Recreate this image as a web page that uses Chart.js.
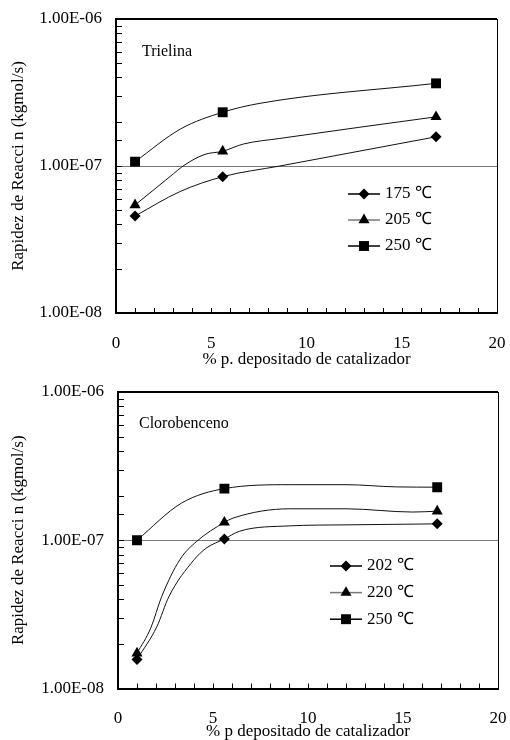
<!DOCTYPE html>
<html>
<head>
<meta charset="utf-8">
<script src="https://cdn.jsdelivr.net/npm/chart.js@4.4.1/dist/chart.umd.min.js"></script>
<style>
  html, body { margin: 0; padding: 0; background: #fff; }
  #wrap { position: relative; width: 510px; height: 740px; }
  canvas { position: absolute; left: 0; }
  #chartTop { top: 0; }
  #chartBottom { top: 370px; }
</style>
</head>
<body>
<div id="wrap">
  <canvas id="chartTop" width="510" height="370"></canvas>
  <canvas id="chartBottom" width="510" height="370"></canvas>
</div>
<script>
const SERIF = "'Liberation Serif', 'Times New Roman', serif";

// x positions of the measured points (% p. catalyst)
const catalystPct = [1, 5.6, 16.8];

// Trielina - measured rates (kgmol/s)
const trielinaLabels = ['175 \u2103', '205 \u2103', '250 \u2103'];
const trielina175 = [4.57e-8, 8.46e-8, 1.58e-7];
const trielina205 = [5.43e-8, 1.26e-7, 2.16e-7];
const trielina250 = [1.07e-7, 2.32e-7, 3.65e-7];

// Trielina - trend lines
const trielina175LineX = [1, 3.35, 5.6, 8.6, 16.8];
const trielina175LineY = [4.57e-8, 6.69e-8, 8.46e-8, 1.0e-7, 1.58e-7];
const trielina205LineX = [1, 2.83, 3.62, 4.67, 5.6, 6.68, 8.6, 16.8];
const trielina205LineY = [5.43e-8, 8.46e-8, 1.02e-7, 1.2e-7, 1.26e-7, 1.41e-7, 1.54e-7, 2.16e-7];
const trielina250LineX = [1, 3.4, 5.6, 7.56, 16.8];
const trielina250LineY = [1.07e-7, 1.79e-7, 2.32e-7, 2.67e-7, 3.65e-7];

// Clorobenceno - measured rates (kgmol/s)
const cloroLabels = ['202 \u2103', '220 \u2103', '250 \u2103'];
const cloro202 = [1.57e-8, 1.02e-7, 1.29e-7];
const cloro220 = [1.73e-8, 1.32e-7, 1.57e-7];
const cloro250 = [1.0e-7, 2.23e-7, 2.28e-7];

// Clorobenceno - trend lines
const cloro202LineX = [1, 2.05, 2.68, 4.0, 4.65, 5.6, 6.39, 9.04, 12, 16.8];
const cloro202LineY = [1.57e-8, 2.62e-8, 4.17e-8, 7.38e-8, 8.86e-8, 1.02e-7, 1.15e-7, 1.25e-7, 1.27e-7, 1.29e-7];
const cloro220LineX = [1, 1.72, 2.3, 3.25, 4.13, 5.6, 6.05, 9.04, 12, 15.5, 16.8];
const cloro220LineY = [1.73e-8, 2.55e-8, 4.17e-8, 7.38e-8, 9.8e-8, 1.32e-7, 1.41e-7, 1.63e-7, 1.63e-7, 1.55e-7, 1.57e-7];
const cloro250LineX = [1, 3.34, 5.6, 9.04, 12, 14.65, 16.8];
const cloro250LineY = [1.0e-7, 1.78e-7, 2.23e-7, 2.37e-7, 2.37e-7, 2.29e-7, 2.28e-7];

// axis ticks
const xTickLabels = [0, 5, 10, 15, 20];
const yMin = 1e-8;
const yMax = 1e-6;

const markerStyles = ['rectRot', 'triangle', 'rect'];
const markerRadius = [5.5, 6.4, 7];
const legendLineColors = ['#000', '#777', '#000'];

function pairs(xs, ys) {
  return xs.map((x, i) => ({ x: x, y: ys[i] }));
}

function sciLabel(v) {
  const e = Math.log10(v);
  if (Math.abs(e - Math.round(e)) > 1e-6) return '';
  const n = Math.round(e);
  return '1.00E' + (n < 0 ? '-' : '+') + String(Math.abs(n)).padStart(2, '0');
}

// Short tick marks pointing into the plot, like the original
const innerTicks = {
  id: 'innerTicks',
  afterDraw(chart) {
    const ctx = chart.ctx;
    const area = chart.chartArea;
    const xs = chart.scales.x;
    const ys = chart.scales.y;
    ctx.save();
    ctx.strokeStyle = '#000';
    ctx.lineWidth = 1;
    ctx.beginPath();
    ys.ticks.forEach(t => {
      const py = Math.round(ys.getPixelForValue(t.value)) + 0.5;
      ctx.moveTo(area.left, py);
      ctx.lineTo(area.left + 6, py);
    });
    xs.ticks.forEach(t => {
      const px = Math.round(xs.getPixelForValue(t.value)) + 0.5;
      ctx.moveTo(px, area.bottom);
      ctx.lineTo(px, area.bottom - 5);
    });
    ctx.stroke();
    ctx.restore();
  }
};

// Legend and panel caption drawn inside the plot area
const insetLegend = {
  id: 'insetLegend',
  afterDatasetsDraw(chart, args, opts) {
    const ctx = chart.ctx;
    ctx.save();
    ctx.fillStyle = '#000';
    ctx.textBaseline = 'middle';
    ctx.textAlign = 'left';
    ctx.font = '16px ' + SERIF;
    ctx.fillText(opts.caption, opts.captionX, opts.captionY);

    ctx.font = '17px ' + SERIF;
    opts.labels.forEach((label, i) => {
      const y = opts.y + i * opts.rowGap;
      ctx.strokeStyle = legendLineColors[i];
      ctx.lineWidth = 1.5;
      ctx.beginPath();
      ctx.moveTo(opts.x, y);
      ctx.lineTo(opts.x + opts.lineLen, y);
      ctx.stroke();
      ctx.fillStyle = '#000';
      Chart.helpers.drawPoint(ctx, {
        pointStyle: markerStyles[i],
        radius: markerRadius[i],
        rotation: 0,
        borderWidth: 0
      }, opts.x + opts.lineLen / 2, y);
      ctx.fillText(label, opts.x + opts.lineLen + 5, y);
    });
    ctx.restore();
  }
};

function makeChart(canvasId, cfg) {
  const datasets = [];
  cfg.lines.forEach(l => {
    datasets.push({
      data: pairs(l[0], l[1]),
      borderColor: '#111',
      borderWidth: 1,
      pointRadius: 0,
      cubicInterpolationMode: 'monotone',
      fill: false,
      order: 2
    });
  });
  cfg.series.forEach((s, i) => {
    datasets.push({
      label: cfg.labels[i],
      data: pairs(catalystPct, s),
      showLine: false,
      pointStyle: markerStyles[i],
      pointRadius: markerRadius[i],
      pointBackgroundColor: '#000',
      pointBorderWidth: 0,
      order: 1
    });
  });

  return new Chart(document.getElementById(canvasId), {
    type: 'line',
    data: { datasets: datasets },
    plugins: [innerTicks, insetLegend],
    options: {
      responsive: false,
      animation: false,
      devicePixelRatio: 1,
      layout: { padding: { top: cfg.top, right: cfg.right, left: 0, bottom: 0 } },
      plugins: {
        legend: { display: false },
        tooltip: { enabled: false },
        insetLegend: cfg.legend
      },
      scales: {
        x: {
          type: 'linear',
          min: 0,
          max: 20,
          afterFit: s => {
            s.height = cfg.xHeight;
            s.paddingLeft = 0;
            s.paddingRight = 0;
          },
          ticks: {
            stepSize: 1,
            autoSkip: false,
            maxRotation: 0,
            padding: 20,
            color: '#000',
            font: { family: SERIF, size: 17 },
            callback: v => xTickLabels.includes(v) ? String(v) : ''
          },
          grid: {
            drawTicks: false,
            color: c => (c.tick && c.tick.value === 20) ? '#000' : 'rgba(0,0,0,0)',
            lineWidth: 1
          },
          border: { display: true, color: '#000', width: 2 },
          title: {
            display: true,
            text: cfg.xTitle,
            color: '#000',
            font: { family: SERIF, size: 17, lineHeight: 1 },
            padding: { top: 0, bottom: cfg.xTitlePad }
          }
        },
        y: {
          type: 'logarithmic',
          min: yMin,
          max: yMax,
          afterFit: s => {
            s.width = cfg.left;
            s.paddingTop = 0;
            s.paddingBottom = 0;
          },
          ticks: {
            autoSkip: false,
            padding: 14,
            color: '#000',
            font: { family: SERIF, size: 17 },
            callback: v => sciLabel(v)
          },
          grid: {
            drawTicks: false,
            color: c => {
              if (!c.tick) return 'rgba(0,0,0,0)';
              const v = c.tick.value;
              if (Math.abs(v - yMax) / yMax < 1e-6) return '#000';
              if (Math.abs(v - 1e-7) / 1e-7 < 1e-6) return '#777';
              return 'rgba(0,0,0,0)';
            },
            lineWidth: c => (c.tick && Math.abs(c.tick.value - yMax) / yMax < 1e-6) ? 2 : 1
          },
          border: { display: true, color: '#000', width: 2 },
          title: {
            display: true,
            text: 'Rapidez de Reacci n (kgmol/s)',
            color: '#000',
            font: { family: SERIF, size: 17, lineHeight: 1 },
            padding: { top: 10, bottom: 0 }
          }
        }
      }
    }
  });
}

makeChart('chartTop', {
  top: 19, right: 13, left: 116, xHeight: 57, xTitlePad: 2,
  xTitle: '% p. depositado de catalizador',
  labels: trielinaLabels,
  series: [trielina175, trielina205, trielina250],
  lines: [
    [trielina175LineX, trielina175LineY],
    [trielina205LineX, trielina205LineY],
    [trielina250LineX, trielina250LineY]
  ],
  legend: {
    caption: 'Trielina', captionX: 142, captionY: 52,
    labels: trielinaLabels, x: 348, y: 194, rowGap: 26, lineLen: 32
  }
});

makeChart('chartBottom', {
  top: 22, right: 12, left: 118, xHeight: 51.5, xTitlePad: 0,
  xTitle: '% p depositado de catalizador',
  labels: cloroLabels,
  series: [cloro202, cloro220, cloro250],
  lines: [
    [cloro202LineX, cloro202LineY],
    [cloro220LineX, cloro220LineY],
    [cloro250LineX, cloro250LineY]
  ],
  legend: {
    caption: 'Clorobenceno', captionX: 139, captionY: 54,
    labels: cloroLabels, x: 330, y: 196, rowGap: 26.6, lineLen: 32
  }
});
</script>
</body>
</html>
